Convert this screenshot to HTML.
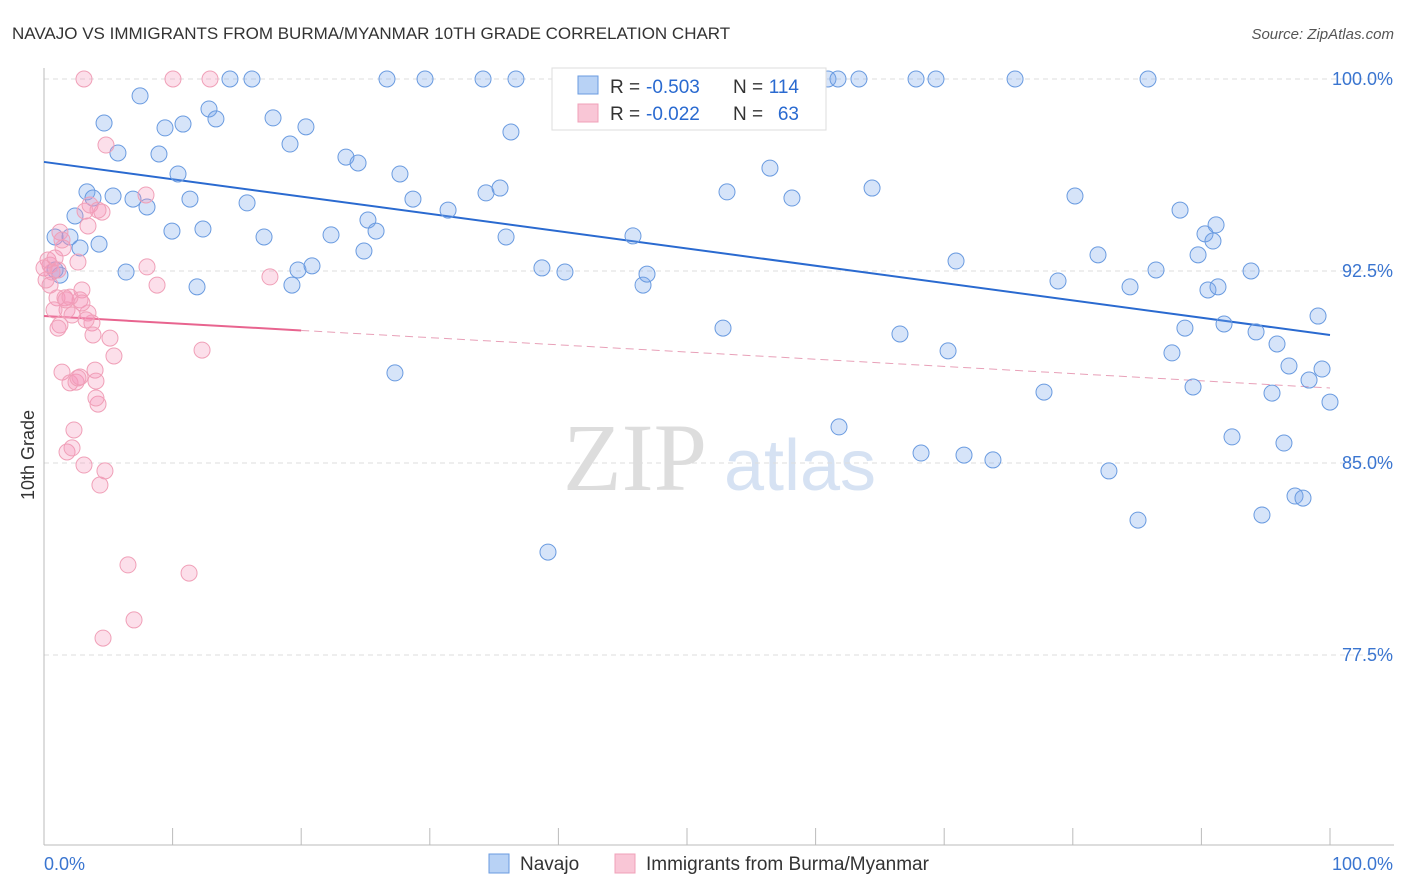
<!DOCTYPE html>
<html><head><meta charset="utf-8"><style>
body{margin:0;background:#fff;font-family:"Liberation Sans",sans-serif}
svg{display:block}
</style></head><body>
<svg id="chart" width="1406" height="892">
<text x="12" y="39" font-size="17" fill="#333">NAVAJO VS IMMIGRANTS FROM BURMA/MYANMAR 10TH GRADE CORRELATION CHART</text>
<text x="1394" y="39" font-size="15" fill="#555" font-style="italic" text-anchor="end">Source: ZipAtlas.com</text>
<text x="34" y="455" font-size="18" fill="#333" text-anchor="middle" transform="rotate(-90 34 455)">10th Grade</text>
<g><text x="635" y="490" font-size="96" fill="#ddd" font-family="Liberation Serif,serif" text-anchor="middle">ZIP</text><text x="800" y="490" font-size="72" fill="#d6e2f3" text-anchor="middle">atlas</text></g>
<g id="grid"></g><g id="axes"></g><g id="trends"></g><g id="pts"></g>
<g>
<rect x="552" y="68" width="274" height="62" fill="#fff" stroke="#ddd"/>
<rect x="578" y="76" width="20" height="18" fill="#b8d2f5" stroke="#6a9be0"/>
<rect x="578" y="104" width="20" height="18" fill="#f9c6d6" stroke="#f0a0b8"/>
<text x="610" y="93" font-size="19" fill="#333">R =</text>
<text x="646" y="93" font-size="19" fill="#2a6ad0">-0.503</text>
<text x="733" y="93" font-size="19" fill="#333">N =</text>
<text x="799" y="93" font-size="19" fill="#2a6ad0" text-anchor="end">114</text>
<text x="610" y="120" font-size="19" fill="#333">R =</text>
<text x="646" y="120" font-size="19" fill="#2a6ad0">-0.022</text>
<text x="733" y="120" font-size="19" fill="#333">N =</text>
<text x="799" y="120" font-size="19" fill="#2a6ad0" text-anchor="end">63</text>
</g>
<g>
<rect x="489" y="854" width="20" height="19" fill="#b8d2f5" stroke="#6a9be0"/>
<text x="520" y="870" font-size="19" fill="#333">Navajo</text>
<rect x="615" y="854" width="20" height="19" fill="#f9c6d6" stroke="#f0a0b8"/>
<text x="646" y="870" font-size="19" fill="#333">Immigrants from Burma/Myanmar</text>
</g>
</svg>
<script>
const yTicks=[100,92.5,85,77.5];
const yTickLabels=["100.0%","92.5%","85.0%","77.5%"];
const xTickLabels=["0.0%","100.0%"];
const blueX=[.86,.86,1.24,2.02,2.80,2.41,3.34,3.81,4.28,4.67,5.37,5.75,6.38,6.92,7.47,8.01,8.94,9.41,9.95,10.42,10.81,11.35,11.90,12.36,12.83,13.37,14.46,15.79,16.17,17.11,17.81,19.13,19.28,19.75,20.37,20.84,22.32,23.48,24.42,24.88,25.19,25.82,26.67,27.29,27.68,28.69,29.63,31.42,34.14,34.37,35.46,35.93,36.31,36.70,38.72,39.19,40.51,45.80,46.58,46.89,52.80,53.11,52.41,56.45,58.16,60.96,61.74,61.82,63.37,64.39,66.56,67.81,68.20,69.36,70.30,70.92,71.54,73.79,75.51,77.76,78.85,80.17,81.96,82.81,84.45,85.07,85.85,86.47,87.71,88.34,88.72,89.35,89.74,90.28,90.90,91.14,90.51,91.29,91.76,92.38,93.86,94.25,94.71,95.49,95.88,96.42,96.81,97.28,97.90,98.37,99.07,99.38,100];
const blueY=[93.83,92.54,92.34,93.83,93.40,94.65,95.59,95.35,93.55,98.28,95.43,97.11,92.46,95.31,99.34,95.0,97.07,98.09,94.06,96.29,98.24,95.31,91.88,94.14,98.83,98.44,100,95.16,100,93.83,98.48,97.46,91.95,92.54,98.13,92.70,93.91,96.95,96.72,93.28,94.49,94.06,100,88.52,96.29,95.31,100,94.88,100,95.55,95.74,93.83,97.93,100,92.62,81.52,92.46,93.87,91.95,92.38,90.27,95.59,100,96.52,95.35,100,100,86.41,100,95.74,90.04,100,85.39,100,89.38,92.89,85.31,85.12,100,87.77,92.11,95.43,93.13,84.69,91.88,82.77,100,92.54,89.30,94.88,90.27,87.97,93.13,93.95,93.67,94.30,91.76,91.88,90.43,86.02,92.50,90.12,82.97,87.73,89.65,85.78,88.79,83.71,83.63,88.24,90.74,88.67,87.38];
const pinkX=[.31,.47,.62,.86,1.01,1.24,1.48,1.63,1.79,1.24,1.09,1.40,1.79,2.18,2.02,2.33,2.49,2.80,2.64,2.80,2.95,3.11,3.19,3.58,3.42,3.73,3.81,3.97,4.04,4.20,4.04,4.35,4.51,4.74,4.82,5.13,5.44,3.11,6.53,4.59,7.0,7.93,8.01,8.79,10.03,11.28,12.29,12.91,17.57,2.18,1.71,2.95,3.42,.47,.78,4.20,1.40,2.64,3.27,2.02,0,.16,1.09];
const pinkY=[92.93,92.73,92.46,93.01,91.45,94.02,93.40,91.45,90.98,90.39,90.27,88.55,85.43,85.59,88.13,86.29,88.16,88.36,92.85,91.37,91.76,84.92,94.84,95.08,90.86,90.47,90.0,88.63,88.20,87.30,87.54,84.14,94.80,84.69,97.42,89.88,89.18,100,81.02,78.16,78.87,95.47,92.66,91.95,100,80.70,89.41,100,92.27,90.78,91.37,91.25,94.26,91.95,90.98,94.88,93.71,88.32,90.59,91.48,92.62,92.15,92.54];
const blueTrend=[96.76,90.0];
const pinkTrend=[90.74,87.93];
const pinkSolidEnd=20;
const NS="http://www.w3.org/2000/svg";
const X0=44,X1=1330,YTOP=79,PPU=25.6;
const sx=v=>X0+(X1-X0)*v/100;
const sy=v=>YTOP+(100-v)*PPU;
function mk(tag,attrs,parent){const e=document.createElementNS(NS,tag);for(const k in attrs)e.setAttribute(k,attrs[k]);document.getElementById(parent).appendChild(e);return e;}
yTicks.forEach((t,i)=>{
 const g=mk('line',{x1:X0,x2:1394,y1:sy(t),y2:sy(t),stroke:'#ddd','stroke-dasharray':'5,4'},'grid');
 
 
 const l=mk('text',{x:1393,y:sy(t)+6,'font-size':18,fill:'#3a75d0','text-anchor':'end'},'grid');
 l.textContent=yTickLabels[i];
 
 
});
const ax=mk('line',{x1:X0,x2:1394,y1:845,y2:845,stroke:'#bbb'},'axes');


const ay=mk('line',{x1:X0,x2:X0,y1:68,y2:845,stroke:'#bbb'},'axes');


for(let i=0;i<=10;i++){const t=mk('line',{x1:sx(i*10),x2:sx(i*10),y1:828,y2:845,stroke:'#bbb'},'axes');
 
 }
[[0,'start',44],[1,'end',1393]].forEach(([i,a,x])=>{const l=mk('text',{x:x,y:870,'font-size':18,fill:'#3a75d0','text-anchor':a},'axes');l.textContent=xTickLabels[i];
 
 });
function pts(xs,ys,fill,stroke,name){xs.forEach((x,i)=>{const c=mk('circle',{cx:sx(x),cy:sy(ys[i]),r:8,fill:fill,stroke:stroke,'stroke-width':1},'pts');
 
 });}
pts(blueX,blueY,'rgba(120,165,235,0.3)','#6a9be0','navajo-point');
pts(pinkX,pinkY,'rgba(245,150,185,0.3)','#f0a0b8','burma-point');
const bt=mk('line',{x1:sx(0),y1:sy(blueTrend[0]),x2:sx(100),y2:sy(blueTrend[1]),stroke:'#2a6ad0','stroke-width':2},'trends');


const pAt=x=>pinkTrend[0]+(pinkTrend[1]-pinkTrend[0])*x/100;
const ps=mk('line',{x1:sx(0),y1:sy(pinkTrend[0]),x2:sx(pinkSolidEnd),y2:sy(pAt(pinkSolidEnd)),stroke:'#e8648f','stroke-width':2},'trends');


const pd=mk('line',{x1:sx(pinkSolidEnd),y1:sy(pAt(pinkSolidEnd)),x2:sx(100),y2:sy(pinkTrend[1]),stroke:'#e8a0b8','stroke-width':1,'stroke-dasharray':'8,5'},'trends');


</script>
</body></html>
